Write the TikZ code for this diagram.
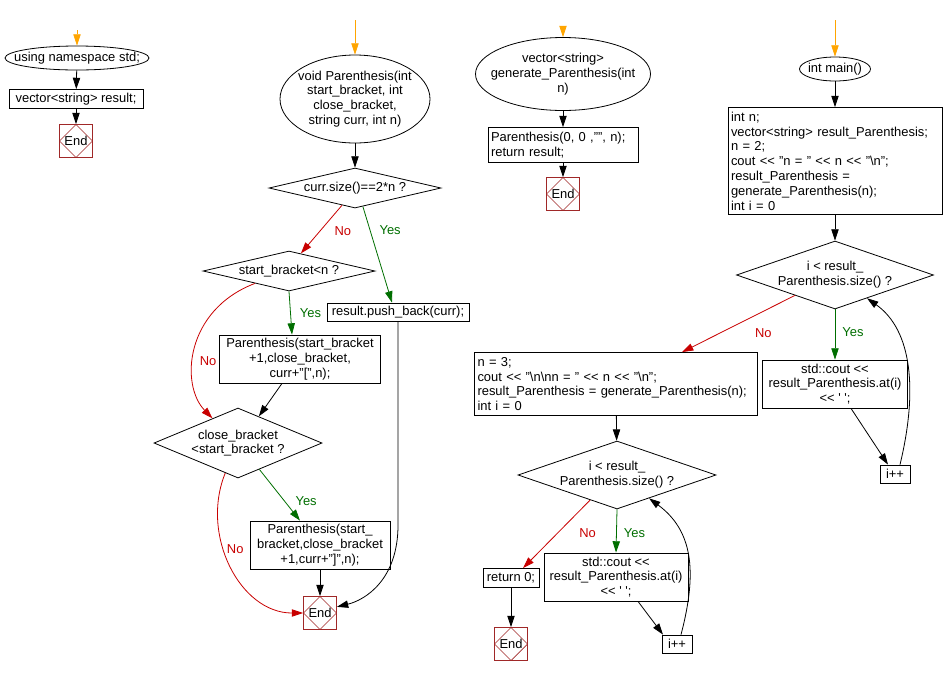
\documentclass[tikz,border=0pt]{standalone}
\usepackage{fontspec}
\setmainfont{Liberation Sans}
\usepackage{xcolor}
\usetikzlibrary{arrows.meta, positioning, shapes.geometric}

\definecolor{startorange}{RGB}{255,165,0}
\definecolor{yesgreen}{RGB}{0,110,0}
\definecolor{nored}{RGB}{200,0,0}
\definecolor{endred}{RGB}{160,40,40}
\newlength{\dpx}\setlength{\dpx}{0.75pt}
\newcommand{\flowfont}{\fontsize{9.7pt}{11.1pt}\selectfont}

\begin{document}
\begin{tikzpicture}[
  x=0.75pt, y=-0.75pt,
  >={Triangle[length=8.5pt,width=5.5pt]},
  every node/.style={font=\flowfont},
  term/.style={ellipse, draw=black, line width=0.6pt, inner xsep=-16\dpx, inner ysep=0pt, align=center},
  proc/.style={rectangle, draw=black, line width=0.6pt, inner sep=0pt, align=center},
  leftbox/.style={rectangle, draw=black, line width=0.6pt, inner xsep=3\dpx, inner ysep=0pt, align=left},
  dec/.style={diamond, draw=black, line width=0.6pt, inner xsep=-10\dpx, inner ysep=0pt, align=center},
  endnode/.style={rectangle, draw=endred, line width=0.6pt, minimum size=33\dpx, inner sep=0pt,
    path picture={\draw[endred, line width=0.5pt] (path picture bounding box.north) -- (path picture bounding box.east)
      -- (path picture bounding box.south) -- (path picture bounding box.west) -- cycle;}},
  link/.style={->, line width=0.6pt},
  startlink/.style={link, draw=startorange},
  yeslink/.style={link, draw=yesgreen},
  nolink/.style={link, draw=nored},
  yeslab/.style={text=yesgreen, inner sep=0pt},
  nolab/.style={text=nored, inner sep=0pt}
]
  \useasboundingbox (0,0) rectangle (944,676);

  % namespace
  \coordinate (s1) at (77,30);
  \node[term, minimum width=144\dpx, minimum height=24\dpx] (ns) at (77,58) {using namespace std;};
  \node[proc, minimum width=134\dpx, minimum height=19\dpx] (vr) at (76,99) {vector<string> result;};
  \node[endnode] (e1) at (76,141) {End};

  \draw[startlink] (s1) -- (ns);
  \draw[link] (ns) -- (vr);
  \draw[link] (vr) -- (e1);

  % Parenthesis
  \coordinate (s2) at (355,20);
  \node[term, minimum width=150\dpx, minimum height=88\dpx] (par) at (355,99)
    {void Parenthesis(int\\start\_bracket, int\\close\_bracket,\\string curr, int n)};
  \node[dec, minimum width=172\dpx, minimum height=40\dpx, shape aspect=4.3] (cs) at (355,188) {curr.size()==2*n ?};
  \node[dec, minimum width=172\dpx, minimum height=40\dpx, shape aspect=4.3] (sb) at (289,271) {start\_bracket<n ?};
  \node[proc, minimum width=142\dpx, minimum height=18\dpx] (pb) at (398,312) {result.push\_back(curr);};
  \node[proc, minimum width=161\dpx, minimum height=48\dpx] (p1) at (300,359)
    {Parenthesis(start\_bracket\\+1,close\_bracket,\\curr+"[",n);};
  \node[dec, minimum width=168\dpx, minimum height=70\dpx, shape aspect=2.4] (cb) at (238,443)
    {close\_bracket\\<start\_bracket ?};
  \node[proc, minimum width=140\dpx, minimum height=48\dpx] (p2) at (320,545)
    {Parenthesis(start\_\\bracket,close\_bracket\\+1,curr+"]",n);};
  \node[endnode] (e2) at (320,613) {End};
  \coordinate (pbturn) at (398,525);

  \draw[startlink] (s2) -- (par);
  \draw[link] (par) -- (cs);
  \draw[nolink] (cs.233) -- node[nolab, pos=0.53, right=14\dpx] {No} (sb.56);
  \draw[yeslink] (cs.293) -- node[yeslab, pos=0.25, right=9\dpx] {Yes} ([xshift=-6\dpx]pb.north);
  \draw[yeslink] (sb.south) -- node[yeslab, pos=0.5, right=9\dpx] {Yes} ([xshift=-8\dpx]p1.north);
  \draw[nolink] (sb.200) .. controls (185,310) and (180,385) .. (cb.136) node[nolab, pos=0.58, right=6\dpx] {No};
  \draw[link] ([xshift=-18\dpx]p1.south) -- (cb.52);
  \draw[yeslink] (cb.309) -- node[yeslab, pos=0.61, right=11\dpx] {Yes} ([xshift=-20\dpx]p2.north);
  \draw[nolink] (cb.247) .. controls (200,535) and (240,613) .. (e2.west) node[nolab, pos=0.4, right=3\dpx] {No};
  \draw[link] (p2) -- (e2);
  \draw[link] (pb.south) -- (pbturn) .. controls (398,580) and (365,600) .. (e2.20);

  % generate_Parenthesis
  \coordinate (s3) at (563,30);
  \node[term, minimum width=175\dpx, minimum height=73\dpx] (gp) at (563,74)
    {vector<string>\\generate\_Parenthesis(int\\n)};
  \node[leftbox, text width=144\dpx, minimum height=35\dpx] (pr) at (563,145)
    {Parenthesis(0, 0 ,"", n);\\return result;};
  \node[endnode] (e3) at (563,194) {End};

  \draw[startlink] (s3) -- (gp);
  \draw[link] (gp) -- (pr);
  \draw[link] (pr) -- (e3);

  % main
  \coordinate (s4) at (835,20);
  \node[term, minimum width=71\dpx, minimum height=24\dpx] (mn) at (835,69) {int main()};
  \node[leftbox, text width=208\dpx, minimum height=107\dpx] (mb) at (835,161)
    {int n;\\vector<string> result\_Parenthesis;\\n = 2;\\cout <{}< "n = " <{}< n <{}< "\textbackslash n";\\
     result\_Parenthesis =\\generate\_Parenthesis(n);\\int i = 0};
  \node[dec, minimum width=197\dpx, minimum height=68\dpx, shape aspect=2.9] (d1) at (835,275)
    {i < result\_\\Parenthesis.size() ?};
  \node[proc, minimum width=145\dpx, minimum height=48\dpx] (c1) at (835,384)
    {std::cout <{}<\\result\_Parenthesis.at(i)\\<{}< \textquotesingle\ \textquotesingle;};
  \node[proc, minimum width=30\dpx, minimum height=18\dpx] (i1) at (895,474) {i++};

  \node[leftbox, text width=277\dpx, minimum height=63\dpx] (nb) at (616,384)
    {n = 3;\\cout <{}< "\textbackslash n\textbackslash nn = " <{}< n <{}< "\textbackslash n";\\
     result\_Parenthesis = generate\_Parenthesis(n);\\int i = 0};
  \node[dec, minimum width=198\dpx, minimum height=68\dpx, shape aspect=2.9] (d2) at (617,475)
    {i < result\_\\Parenthesis.size() ?};
  \node[proc, minimum width=144\dpx, minimum height=48\dpx] (c2) at (616,577)
    {std::cout <{}<\\result\_Parenthesis.at(i)\\<{}< \textquotesingle\ \textquotesingle;};
  \node[proc, minimum width=30\dpx, minimum height=18\dpx] (i2) at (677,644) {i++};
  \node[proc, minimum width=56\dpx, minimum height=19\dpx] (rt) at (511,578) {return 0;};
  \node[endnode] (e4) at (511,644) {End};

  \draw[startlink] (s4) -- (mn);
  \draw[link] (mn) -- (mb);
  \draw[link] (mb) -- (d1);
  \draw[yeslink] (d1.south) -- node[yeslab, pos=0.45, right=7\dpx] {Yes} (c1.north);
  \draw[nolink] (d1.207) -- node[nolab, pos=0.28, below=17\dpx] {No} ([xshift=66\dpx]nb.north);
  \draw[link] ([xshift=16\dpx]c1.south) -- ([xshift=-7\dpx]i1.north);
  \draw[link] ([xshift=5\dpx]i1.north) .. controls (918,390) and (912,330) .. (d1.324);

  \draw[link] (nb) -- (d2);
  \draw[yeslink] (d2.south) -- node[yeslab, pos=0.55, right=7\dpx] {Yes} (c2.north);
  \draw[nolink] (d2.223) -- node[nolab, pos=0.48, right=21\dpx] {No} ([xshift=12\dpx]rt.north);
  \draw[link] (rt) -- (e4);
  \draw[link] ([xshift=22\dpx]c2.south) -- ([xshift=-14\dpx]i2.north);
  \draw[link] ([xshift=4\dpx]i2.north) .. controls (698,570) and (692,530) .. (d2.324);
\end{tikzpicture}
\end{document}
